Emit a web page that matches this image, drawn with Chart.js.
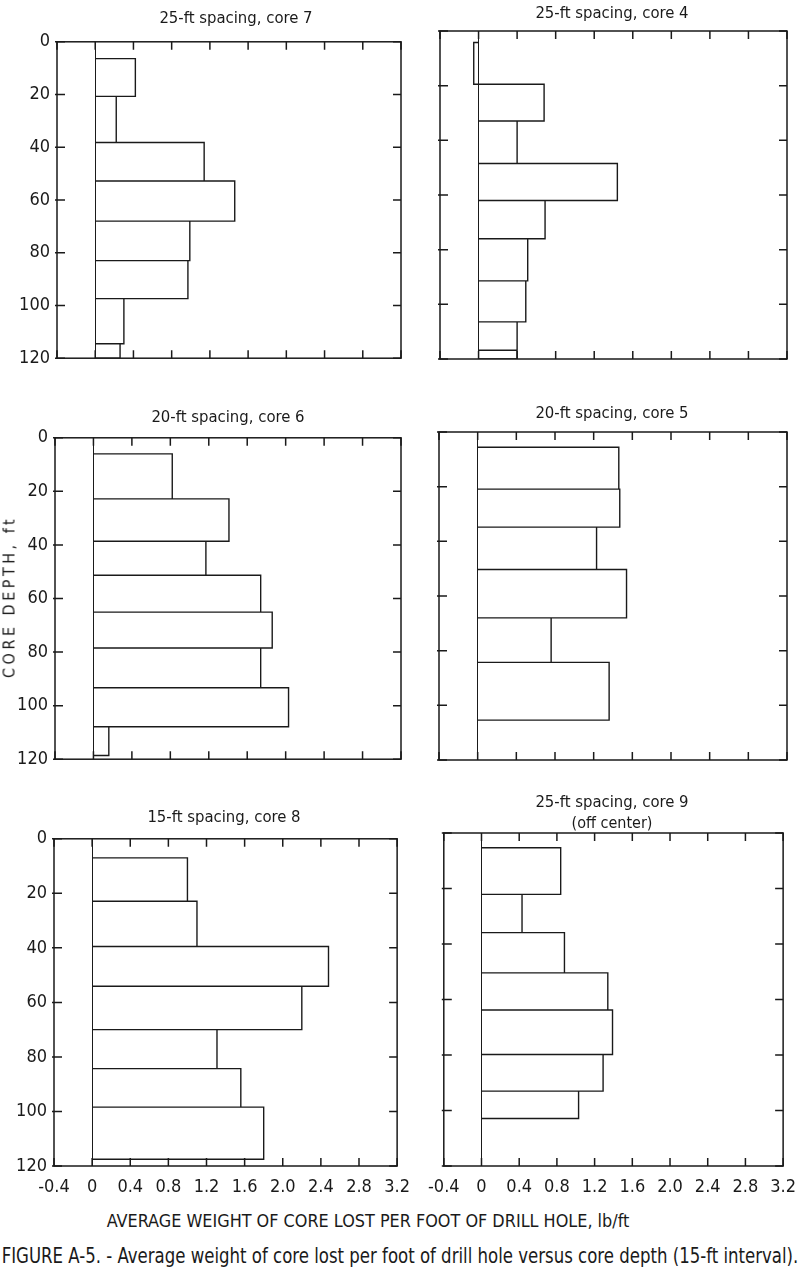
<!DOCTYPE html>
<html>
<head>
<meta charset="utf-8">
<script src="https://cdn.jsdelivr.net/npm/chart.js@4.4.1/dist/chart.umd.min.js"></script>
<style>
  body{margin:0;background:#fff;}
  #page{position:relative;width:800px;height:1274px;overflow:hidden;background:#fff;
    font-family:'DejaVu Sans Condensed','Liberation Sans Narrow','Open Sans',sans-serif;color:#1a1a1a;}
  canvas{position:absolute;}
  .txt{position:absolute;white-space:nowrap;transform:translate(-50%,-50%);}
</style>
</head>
<body>
<div id="page"></div>
<script>
// depth of the interval edges (ft) and average core lost (lb/ft) per interval
const core7Depth = [6.4, 20.7, 38.2, 52.8, 68.0, 83.0, 97.4, 114.5, 120];
const core7Loss  = [0.42, 0.22, 1.14, 1.46, 0.99, 0.97, 0.30, 0.26];

const core4Depth = [4.2, 19.5, 32.9, 48.5, 62.0, 76.0, 91.4, 106.4, 116.8, 120];
const core4Loss  = [-0.05, 0.68, 0.40, 1.44, 0.69, 0.51, 0.49, 0.40, 0.40];

const core6Depth = [6.0, 22.8, 38.6, 51.3, 65.1, 78.5, 93.3, 107.9, 118.6];
const core6Loss  = [0.82, 1.41, 1.17, 1.74, 1.86, 1.74, 2.03, 0.16];

const core5Depth = [5.6, 20.9, 34.8, 50.3, 68.0, 84.3, 105.4];
const core5Loss  = [1.46, 1.47, 1.23, 1.54, 0.76, 1.36];

const core8Depth = [7.0, 22.9, 39.5, 54.1, 70.0, 84.3, 98.4, 117.5];
const core8Loss  = [1.00, 1.10, 2.48, 2.20, 1.31, 1.56, 1.80];

const core9Depth = [5.3, 22.1, 35.9, 50.4, 63.8, 79.8, 93.0, 102.9];
const core9Loss  = [0.84, 0.43, 0.88, 1.34, 1.39, 1.29, 1.03];

const xTickLabels = ['-0.4','0','0.4','0.8','1.2','1.6','2.0','2.4','2.8','3.2'];
const yTickLabels = ['0','20','40','60','80','100','120'];

const panelTitles = [
  ['25-ft spacing, core 7'], ['25-ft spacing, core 4'],
  ['20-ft spacing, core 6'], ['20-ft spacing, core 5'],
  ['15-ft spacing, core 8'], ['25-ft spacing, core 9', '(off center)']
];
const xAxisTitle = 'AVERAGE WEIGHT OF CORE LOST PER FOOT OF DRILL HOLE, lb/ft';
const yAxisTitle = 'CORE DEPTH, ft';
const caption = 'FIGURE A-5. - Average weight of core lost per foot of drill hole versus core depth (15-ft interval).';

const FONT = "'DejaVu Sans Condensed','Liberation Sans Narrow','Open Sans',sans-serif";
const INK = '#1a1a1a';
const page = document.getElementById('page');

// plot boxes (chart area) of the six panels
const panels = [
  {depth:core7Depth, loss:core7Loss, box:[57,401,38,362],   col:0, row:0, tx:236, ty:17},
  {depth:core4Depth, loss:core4Loss, box:[440,787,31,359],  col:1, row:0, tx:612, ty:12},
  {depth:core6Depth, loss:core6Loss, box:[55,401,434,763],  col:0, row:1, tx:228, ty:416},
  {depth:core5Depth, loss:core5Loss, box:[439,787,432,760], col:1, row:1, tx:612, ty:412},
  {depth:core8Depth, loss:core8Loss, box:[54,401,835,1166], col:0, row:2, tx:224, ty:816},
  {depth:core9Depth, loss:core9Loss, box:[439,787,833,1166],col:1, row:2, tx:612, ty:801}
];

function outline(depth, loss){
  const pts=[];
  loss.forEach((v,i)=>{
    pts.push({x:0,y:depth[i]},{x:v,y:depth[i]},{x:v,y:depth[i+1]},{x:0,y:depth[i+1]});
  });
  return pts;
}

// frame + inward tick marks
const frameTicks = {
  id:'frameTicks',
  afterDraw(chart){
    const {ctx, chartArea:a, scales:{x,y}} = chart;
    ctx.save();
    ctx.strokeStyle=INK; ctx.lineWidth=1.5;
    ctx.strokeRect(a.left,a.top,a.width,a.height);
    ctx.beginPath();
    x.ticks.forEach(t=>{
      const px=x.getPixelForValue(t.value);
      ctx.moveTo(px,a.top); ctx.lineTo(px,a.top+8);
      ctx.moveTo(px,a.bottom); ctx.lineTo(px,a.bottom-8);
    });
    y.ticks.forEach(t=>{
      const py=y.getPixelForValue(t.value);
      ctx.moveTo(a.left-2,py); ctx.lineTo(a.left+8,py);
      ctx.moveTo(a.right,py); ctx.lineTo(a.right-8,py);
    });
    ctx.stroke();
    ctx.restore();
  }
};

// text helper; width = target width in px (squeezed/stretched to fit)
function addText(str, x, y, size, width, extra){
  const d=document.createElement('div');
  d.className='txt'; d.textContent=str;
  d.style.left=x+'px'; d.style.top=y+'px'; d.style.fontSize=size+'px';
  if(extra) Object.assign(d.style, extra);
  page.appendChild(d);
  if(width){
    const sx = width/d.offsetWidth;
    d.style.transform='translate(-50%,-50%) scaleX('+sx.toFixed(3)+')';
  }
}

panels.forEach((p,k)=>{
  const [L,R,T,B]=p.box;
  const bottomRow = p.row===2;
  const leftCol = p.col===0;
  const padL = leftCol?0:22, padR=20, padT=14;
  const yW = leftCol?L:0;
  const xH = bottomRow?40:0, padB = bottomRow?0:14;
  const cv=document.createElement('canvas');
  const left = leftCol?0:L-padL;
  const w = padL+yW+(R-L)+padR, h = padT+(B-T)+xH+padB;
  cv.width=w; cv.height=h;
  cv.style.left=left+'px'; cv.style.top=(T-padT)+'px';
  cv.style.width=w+'px'; cv.style.height=h+'px';
  page.appendChild(cv);

  new Chart(cv.getContext('2d'),{
    type:'scatter',
    data:{datasets:[{
      data:outline(p.depth,p.loss),
      showLine:true, borderColor:INK, borderWidth:1.4,
      pointRadius:0, tension:0, fill:false
    }]},
    options:{
      responsive:false, animation:false,
      layout:{padding:{left:padL,right:padR,top:padT,bottom:padB}},
      plugins:{legend:{display:false},tooltip:{enabled:false}},
      scales:{
        x:{
          type:'linear', min:-0.4, max:3.2,
          ticks:{stepSize:0.4, display:bottomRow, padding:11, color:INK,
                 font:{family:FONT,size:18},
                 callback:v=>xTickLabels[Math.round((v+0.4)/0.4)]},
          grid:{drawTicks:false, lineWidth:1,
                color:c=>Math.abs(c.tick.value)<1e-9?INK:'rgba(0,0,0,0)'},
          border:{display:false},
          afterFit:s=>{s.height=xH;}
        },
        y:{
          type:'linear', min:0, max:120, reverse:true,
          ticks:{stepSize:20, display:leftCol, padding:7, color:INK,
                 font:{family:FONT,size:18},
                 callback:v=>yTickLabels[Math.round(v/20)]},
          grid:{display:false, drawTicks:false},
          border:{display:false},
          afterFit:s=>{s.width=yW;}
        }
      }
    },
    plugins:[frameTicks]
  });

  panelTitles[k].forEach((t,j)=>addText(t,p.tx,p.ty+j*21,16,j===0?153:null));
});

addText(yAxisTitle, 9, 597, 16, null, {transform:'translate(-50%,-50%) rotate(-90deg)', letterSpacing:'3.5px'});
addText(xAxisTitle, 368, 1221, 17, 523);
addText(caption, 400, 1256, 21, 796);
</script>
</body>
</html>
